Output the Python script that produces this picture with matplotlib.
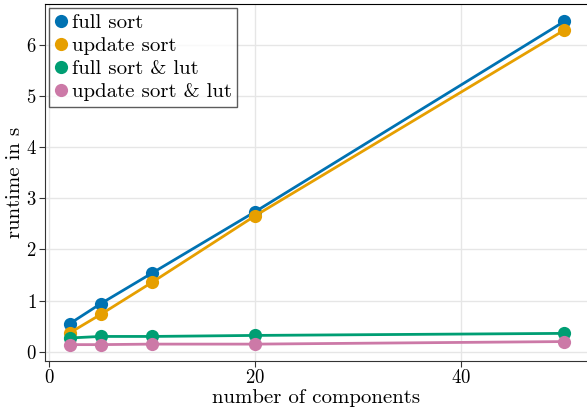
import numpy as np
import matplotlib
matplotlib.use("Agg")
import matplotlib.pyplot as plt
from matplotlib.lines import Line2D

plt.rcParams['font.family'] = 'serif'
plt.rcParams['font.serif'] = ['cmr10']
plt.rcParams['mathtext.fontset'] = 'cm'
plt.rcParams['axes.formatter.use_mathtext'] = True

# data
components = [2, 5, 10, 20, 50]
full_sort = [0.55, 0.94, 1.54, 2.74, 6.46]
update_sort = [0.37, 0.73, 1.36, 2.66, 6.29]
full_sort_lut = [0.27, 0.30, 0.30, 0.32, 0.36]
update_sort_lut = [0.14, 0.14, 0.15, 0.15, 0.20]

series = [
    ("full sort", full_sort, "#0072B2"),
    ("update sort", update_sort, "#E69F00"),
    ("full sort & lut", full_sort_lut, "#009E73"),
    ("update sort & lut", update_sort_lut, "#CC79A7"),
]

fig = plt.figure(figsize=(5.87, 4.12), dpi=100)
ax = fig.add_axes([0.0767, 0.1238, 0.9233, 0.8665])

handles = []
for label, vals, color in series:
    ax.plot(components, vals, color=color, lw=2.0, marker="o", ms=9.5,
            markeredgewidth=0)
    handles.append(Line2D([], [], color=color, marker="o", ms=9.5, lw=0,
                          markeredgewidth=0, label=label))

ax.set_xlim(-0.4, 52.2)
ax.set_ylim(-0.18, 6.8)
ax.set_xticks([0, 20, 40])
ax.set_yticks(range(7))
ax.grid(True, color="#e6e6e6", lw=1)
ax.set_axisbelow(True)
ax.tick_params(labelsize=13.5, length=4, color="#333333", direction="out", pad=2)

for side in ["left", "bottom"]:
    ax.spines[side].set_color("#333333")
ax.spines["top"].set_color("black")
ax.spines["right"].set_visible(False)

ax.set_xlabel("number of components", fontsize=15, labelpad=1)
ax.set_ylabel("runtime in s", fontsize=15, labelpad=1)

leg = ax.legend(handles=handles, loc="upper left", fontsize=15,
                handlelength=0.6, handletextpad=0.25, borderpad=0.25,
                labelspacing=0.22, fancybox=False, borderaxespad=0.2)
leg.get_frame().set_edgecolor("#333333")
leg.get_frame().set_linewidth(1.0)

fig.savefig("out.png", dpi=100)
